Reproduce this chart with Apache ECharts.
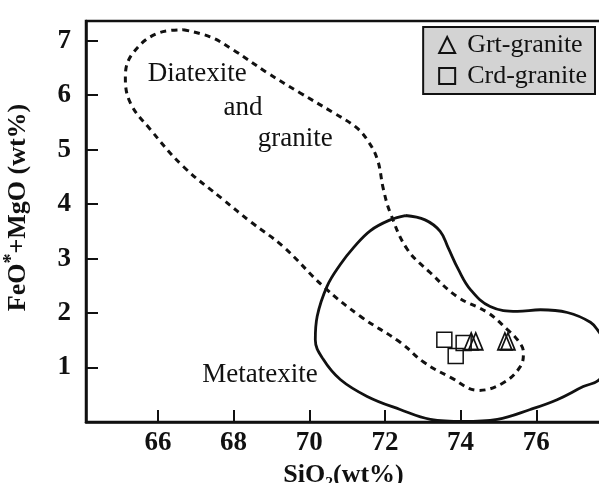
<!DOCTYPE html>
<html>
<head>
<meta charset="utf-8">
<script src="https://cdn.jsdelivr.net/npm/echarts@6/dist/echarts.min.js"></script>
<style>
html,body{margin:0;padding:0;background:#fff;}
#chart{width:599px;height:483px;}
</style>
</head>
<body>
<div id="chart"></div>
<script>
// ---- data ----
const xTicks = [66, 68, 70, 72, 74, 76];
const yTicks = [1, 2, 3, 4, 5, 6, 7];

const grtGranite = [[74.28, 1.48], [74.40, 1.48], [75.17, 1.48], [75.25, 1.48]];
const crdGranite = [[73.57, 1.51], [74.08, 1.45], [73.87, 1.21]];

const diatexiteField = [
  [66.67, 7.20], [67.38, 7.07], [67.99, 6.83], [68.89, 6.41], [69.76, 6.04],
  [70.63, 5.68], [71.22, 5.42], [71.53, 5.18], [71.80, 4.82], [71.96, 4.27],
  [72.14, 3.84], [72.59, 3.17], [73.20, 2.74], [73.91, 2.30], [74.71, 2.01],
  [75.23, 1.70], [75.50, 1.51], [75.66, 1.28], [75.58, 1.02], [75.13, 0.72],
  [74.47, 0.58], [73.73, 0.82], [73.02, 1.10], [72.41, 1.46], [71.35, 1.94],
  [70.37, 2.49], [69.31, 3.22], [68.44, 3.68], [67.73, 4.08], [66.67, 4.69],
  [65.80, 5.37], [65.27, 5.86], [65.14, 6.34], [65.35, 6.78], [66.06, 7.15],
  [66.67, 7.20]
];

const metatexiteField = [
  [72.54, 3.79], [73.06, 3.71], [73.46, 3.50], [73.67, 3.20], [73.94, 2.80],
  [74.26, 2.43], [74.78, 2.12], [75.50, 2.03], [76.11, 2.06], [76.82, 2.01],
  [77.43, 1.83], [77.67, 1.64], [78.09, 1.24], [77.67, 0.78], [77.24, 0.65],
  [76.55, 0.41], [75.84, 0.23], [74.97, 0.05], [74.07, 0.01], [73.20, 0.05],
  [72.40, 0.23], [71.53, 0.47], [70.82, 0.78], [70.37, 1.15], [70.16, 1.51],
  [70.21, 1.94], [70.47, 2.49], [70.82, 2.89], [71.17, 3.20], [71.61, 3.51],
  [72.14, 3.71], [72.54, 3.79]
];

const fieldLabels = [
  { name: 'Diatexite', value: [67.04, 6.38] },
  { name: 'and', value: [68.25, 5.77] },
  { name: 'granite', value: [69.63, 5.20] },
  { name: 'Metatexite', value: [68.70, 0.87] }
];

// ---- chart ----
const SERIF = '"Liberation Serif", "Times New Roman", "DejaVu Serif", serif';
const INK = '#111';
const chart = echarts.init(document.getElementById('chart'), null, { renderer: 'canvas' });

chart.setOption({
  backgroundColor: '#fff',
  animation: false,
  grid: {
    left: 86, right: -2, top: 21, bottom: 61,
    containLabel: false, outerBoundsMode: 'none',
    show: true, borderColor: INK, borderWidth: 2.5, backgroundColor: 'transparent'
  },
  legend: {
    data: ['Grt-granite', 'Crd-granite'],
    orient: 'vertical',
    right: 4, top: 27,
    backgroundColor: '#d3d3d3',
    borderColor: INK, borderWidth: 2,
    borderRadius: 0,
    padding: [5, 8, 5, 15],
    itemGap: 5,
    itemWidth: 16, itemHeight: 16,
    textStyle: { fontFamily: SERIF, fontSize: 26, color: INK, padding: [0, 0, 0, 7] }
  },
  xAxis: {
    type: 'value', min: 64.1, max: 77.71,
    name: 'SiO₂(wt%)', nameLocation: 'middle', nameGap: 39,
    nameTextStyle: { fontFamily: SERIF, fontSize: 26, fontWeight: 'bold', color: INK },
    axisLine: { show: true, lineStyle: { color: INK, width: 2.5 } },
    axisTick: { show: true, inside: true, length: 12, lineStyle: { color: INK, width: 2 }, customValues: xTicks },
    axisLabel: { fontFamily: SERIF, fontSize: 27, fontWeight: 'bold', color: INK, margin: 8, customValues: xTicks },
    splitLine: { show: false }
  },
  yAxis: {
    type: 'value', min: 0, max: 7.36,
    name: 'FeO{s|*}+MgO (wt%)', nameLocation: 'middle', nameGap: 52,
    nameTextStyle: {
      fontFamily: SERIF, fontSize: 26, fontWeight: 'bold', color: INK, padding: [0, 0, 0, 28],
      rich: { s: { fontFamily: SERIF, fontSize: 20, fontWeight: 'bold', color: INK, padding: [0, 0, 12, 0] } }
    },
    axisLine: { show: true, lineStyle: { color: INK, width: 2.5 } },
    axisTick: { show: true, inside: true, length: 12, lineStyle: { color: INK, width: 2 }, customValues: yTicks },
    axisLabel: { fontFamily: SERIF, fontSize: 27, fontWeight: 'bold', color: INK, margin: 15, customValues: yTicks },
    splitLine: { show: false }
  },
  series: [
    {
      name: 'Diatexite and granite field', type: 'line', data: diatexiteField,
      smooth: 0.4, symbol: 'none', silent: true,
      lineStyle: { color: INK, width: 3, type: [6, 5] }
    },
    {
      name: 'Metatexite field', type: 'line', data: metatexiteField,
      smooth: 0.4, symbol: 'none', silent: true,
      lineStyle: { color: INK, width: 2.8 }
    },
    {
      name: 'Grt-granite', type: 'scatter', data: grtGranite,
      symbol: 'triangle', symbolSize: [14, 17],
      itemStyle: { color: 'rgba(255,255,255,0)', borderColor: INK, borderWidth: 1.8, opacity: 1 }
    },
    {
      name: 'Crd-granite', type: 'scatter', data: crdGranite,
      symbol: 'rect', symbolSize: 15,
      itemStyle: { color: 'rgba(255,255,255,0)', borderColor: INK, borderWidth: 1.5, opacity: 1 }
    },
    {
      name: 'field labels', type: 'scatter', data: fieldLabels,
      symbolSize: 0, silent: true,
      itemStyle: { opacity: 1 },
      label: {
        show: true, position: 'inside', formatter: p => p.name,
        fontFamily: SERIF, fontSize: 27, color: INK
      }
    }
  ]
});
</script>
</body>
</html>
